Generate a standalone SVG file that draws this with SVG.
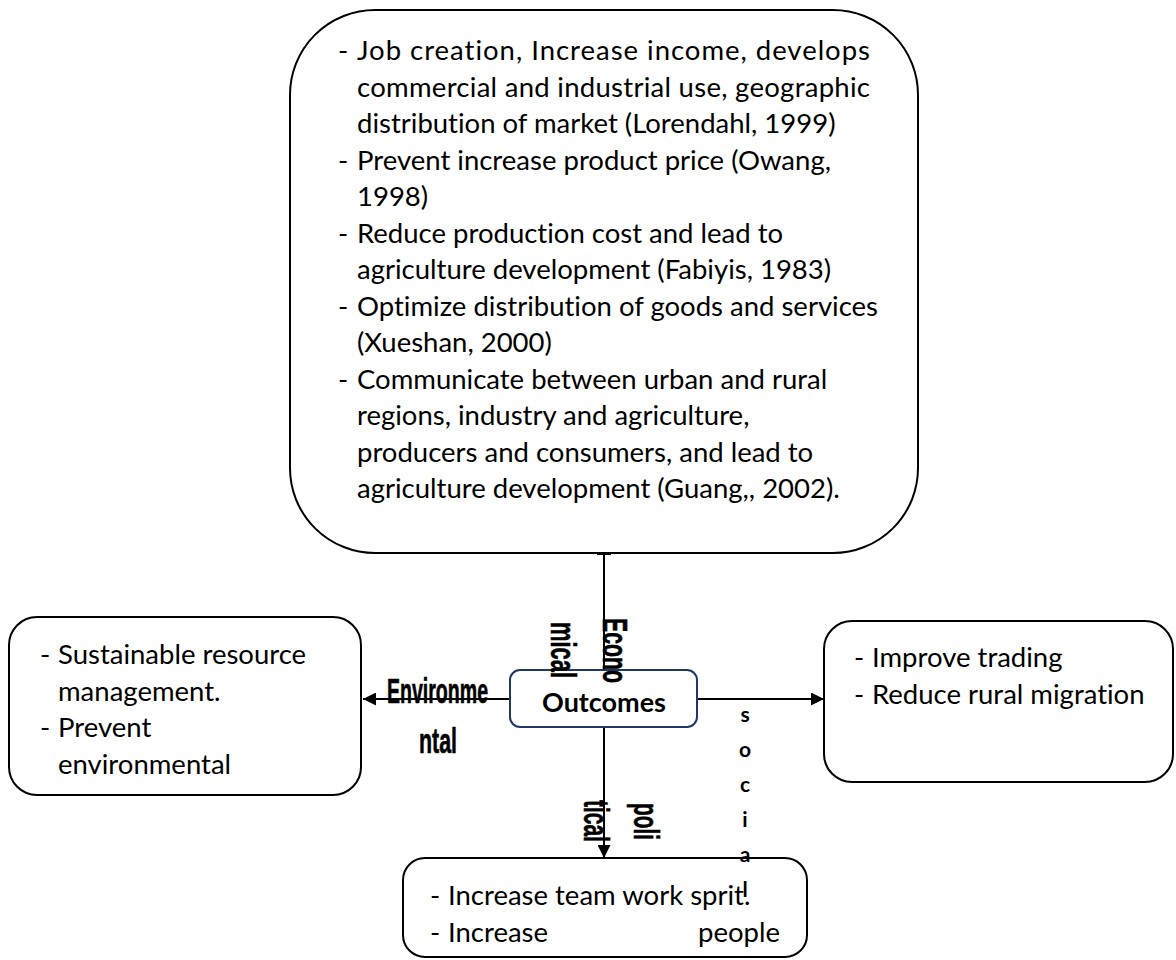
<svg xmlns="http://www.w3.org/2000/svg" width="1176" height="960" viewBox="0 0 1176 960">
<defs>
<style>
.box{fill:#fff;stroke:#000;stroke-width:2}
.core{fill:#fff;stroke:#1f3864;stroke-width:2}
.t{font-family:Lato,"Liberation Sans",sans-serif;font-size:27.5px;fill:#000;font-variant-ligatures:none}
.b{font-family:Lato,"Liberation Sans",sans-serif;font-size:27px;font-weight:bold;fill:#000}
.lbl{font-family:"Liberation Sans",sans-serif;font-size:35px;font-weight:bold;fill:#000;stroke:#000;stroke-width:0.6}
.soc{font-family:Lato,"Liberation Sans",sans-serif;font-size:21px;font-weight:bold;fill:#000;text-anchor:middle}
.ln{stroke:#000;stroke-width:2;fill:none}
</style>
<marker id="ah" viewBox="0 0 10 10" refX="10" refY="5" markerUnits="userSpaceOnUse" markerWidth="15" markerHeight="13" orient="auto">
<path d="M0,0 L10,5 L0,10 z" fill="#000"/>
</marker>
</defs>
<rect width="1176" height="960" fill="#fff"/>

<g id="connectors">
<line class="ln" x1="604" y1="553" x2="604" y2="670"/>
<line class="ln" x1="597" y1="554" x2="611" y2="554"/>
<line class="ln" x1="510" y1="699" x2="363" y2="699" marker-end="url(#ah)"/>
<line class="ln" x1="697" y1="699" x2="824" y2="699" marker-end="url(#ah)"/>
<line class="ln" x1="604" y1="727" x2="604" y2="858" marker-end="url(#ah)"/>
</g>

<g id="economic">
<rect class="box" x="290" y="10" width="628" height="543" rx="85" ry="85"/>
<text class="t" x="338" y="60">-</text>
<text class="t" x="357" y="60" textLength="513" lengthAdjust="spacing">Job creation, Increase income, develops</text>
<text class="t" x="357" y="96.5" textLength="513" lengthAdjust="spacing">commercial and industrial use, geographic</text>
<text class="t" x="357" y="133">distribution of market (Lorendahl, 1999)</text>
<text class="t" x="338" y="169.5">-</text>
<text class="t" x="357" y="169.5">Prevent increase product price (Owang,</text>
<text class="t" x="357" y="206">1998)</text>
<text class="t" x="338" y="242.5">-</text>
<text class="t" x="357" y="242.5">Reduce production cost and lead to</text>
<text class="t" x="357" y="279">agriculture development (Fabiyis, 1983)</text>
<text class="t" x="338" y="315.5">-</text>
<text class="t" x="357" y="315.5">Optimize distribution of goods and services</text>
<text class="t" x="357" y="352">(Xueshan, 2000)</text>
<text class="t" x="338" y="388.5">-</text>
<text class="t" x="357" y="388.5">Communicate between urban and rural</text>
<text class="t" x="357" y="425">regions, industry and agriculture,</text>
<text class="t" x="357" y="461.5">producers and consumers, and lead to</text>
<text class="t" x="357" y="498">agriculture development (Guang,, 2002).</text>
</g>

<g id="environmental">
<rect class="box" x="9" y="617" width="352" height="178" rx="28" ry="28"/>
<text class="t" x="40" y="664">-</text>
<text class="t" x="58" y="664">Sustainable resource</text>
<text class="t" x="58" y="701">management.</text>
<text class="t" x="40" y="737">-</text>
<text class="t" x="58" y="737">Prevent</text>
<text class="t" x="58" y="774">environmental</text>
</g>

<g id="social">
<rect class="box" x="824" y="621" width="349" height="161" rx="28" ry="28"/>
<text class="t" x="854" y="667">-</text>
<text class="t" x="872" y="667">Improve trading</text>
<text class="t" x="854" y="704">-</text>
<text class="t" x="872" y="704">Reduce rural migration</text>
</g>

<g id="political">
<rect class="box" x="403" y="858" width="404" height="99" rx="22" ry="22"/>
<text class="t" x="430" y="905">-</text>
<text class="t" x="448" y="905">Increase team work sprit.</text>
<text class="t" x="430" y="942">-</text>
<text class="t" x="448" y="942">Increase</text>
<text class="t" x="780" y="942" text-anchor="end">people</text>
</g>

<g id="outcomes">
<rect class="core" x="510" y="670" width="187" height="57" rx="10" ry="10"/>
<text class="b" x="604" y="712" text-anchor="middle">Outcomes</text>
</g>

<g id="labels">
<text class="lbl" transform="translate(603,618) rotate(90)" x="0" y="0" textLength="65" lengthAdjust="spacingAndGlyphs">Econo</text>
<text class="lbl" transform="translate(551,622) rotate(90)" x="0" y="0" textLength="56" lengthAdjust="spacingAndGlyphs">mical</text>
<text class="lbl" x="387" y="703" textLength="101" lengthAdjust="spacingAndGlyphs">Environme</text>
<text class="lbl" x="419" y="753" textLength="38" lengthAdjust="spacingAndGlyphs">ntal</text>
<text class="lbl" transform="translate(584,800) rotate(90)" x="0" y="0" textLength="42" lengthAdjust="spacingAndGlyphs">tical</text>
<text class="lbl" transform="translate(634,803) rotate(90)" x="0" y="0" textLength="37" lengthAdjust="spacingAndGlyphs">poli</text>
<text class="soc" x="745" y="722">s</text>
<text class="soc" x="745" y="757">o</text>
<text class="soc" x="745" y="792">c</text>
<text class="soc" x="745" y="827">i</text>
<text class="soc" x="745" y="862">a</text>
<text class="soc" x="745" y="897">l</text>
</g>
</svg>
